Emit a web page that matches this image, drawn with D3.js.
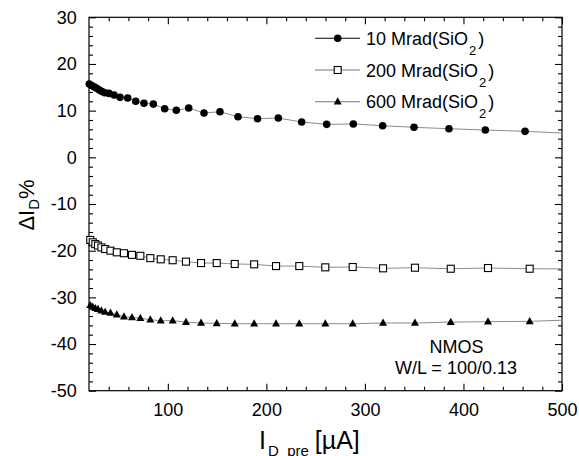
<!DOCTYPE html>
<html>
<head>
<meta charset="utf-8">
<script src="https://cdn.jsdelivr.net/npm/d3@7"></script>
<style>
  body { margin: 0; background: #fff; }
  svg { display: block; font-family: "Liberation Sans", Arial, Helvetica, sans-serif; }
</style>
</head>
<body>
<svg id="chart" width="579" height="456"></svg>
<script>
// Drain-current degradation vs. pre-irradiation drain current (NMOS, W/L = 100/0.13)

// 10 Mrad(SiO2) series
const current10 = [20.3, 22.7, 25.1, 27.8, 30.5, 33.2, 35.9, 40.3, 45.4, 51.5, 59.3, 67.4, 75.8, 85.3, 96.8,
  108.6, 121.2, 136.7, 152.9, 171.2, 191.0, 212.1, 235.8, 261.2, 288.2, 318.0, 349.8, 385.3, 422.2, 462.5];
const delta10 = [15.7, 15.4, 15.1, 14.8, 14.4, 14.1, 13.85, 13.7, 13.35, 12.85, 12.7, 12.0, 11.6, 11.4, 10.4,
  10.07, 10.56, 9.49, 9.77, 8.7, 8.27, 8.42, 7.56, 7.07, 7.14, 6.77, 6.43, 6.13, 5.85, 5.57];

// 200 and 600 Mrad(SiO2) series share the same bias currents
const current = [21.3, 23.8, 26.4, 29.1, 32.6, 36.4, 41.8, 48.2, 55.5, 63.6, 72.1, 82.2, 92.8, 104.9,
  118.4, 133.7, 149.6, 167.9, 187.6, 209.8, 233.4, 259.8, 287.6, 318.4, 350.8, 387.1, 424.9, 467.2];
const delta200 = [-17.7, -18.2, -18.6, -18.9, -19.3, -19.65, -20.0, -20.35, -20.55, -20.9, -21.1, -21.6,
  -21.85, -22.05, -22.35, -22.65, -22.65, -22.85, -22.93, -23.3, -23.3, -23.57, -23.5, -23.78, -23.65, -23.87, -23.72, -23.87];
const delta600 = [-31.7, -32.05, -32.35, -32.55, -32.85, -33.15, -33.35, -33.7, -34.15, -34.3, -34.45, -34.8,
  -35.0, -35.0, -35.3, -35.5, -35.57, -35.65, -35.65, -35.65, -35.65, -35.65, -35.65, -35.5, -35.5, -35.3, -35.22, -35.14];

// trend lines continue to the end of the current range
const trendEndCurrent = 500;
const trendEnd = [5.2, -23.9, -34.9];

const seriesNames = ["10 Mrad(SiO", "200 Mrad(SiO", "600 Mrad(SiO"];
const xMajorTicks = [100, 200, 300, 400, 500];
const yMajorTicks = [-50, -40, -30, -20, -10, 0, 10, 20, 30];
const noteLines = ["NMOS", "W/L = 100/0.13"];

const series = [
  { name: seriesNames[0], xs: current10, ys: delta10, end: trendEnd[0], marker: "circle", legendLine: "#000" },
  { name: seriesNames[1], xs: current, ys: delta200, end: trendEnd[1], marker: "square", legendLine: "#777" },
  { name: seriesNames[2], xs: current, ys: delta600, end: trendEnd[2], marker: "triangle", legendLine: "#777" }
];

const svg = d3.select("#chart");
const plot = { left: 89, top: 17.3, right: 562, bottom: 390.7 };

const x = d3.scaleLinear().domain([20, 500]).range([plot.left, plot.right]);
const y = d3.scaleLinear().domain([-50, 30]).range([plot.bottom, plot.top]);

const xMinor = d3.range(40, 500, 20).filter(v => !xMajorTicks.includes(v));
const yMinor = d3.range(-48, 30, 2).filter(v => !yMajorTicks.includes(v));

// plain hyphen-minus labels
const plainNumber = d => String(d);

function styleAxis(g) {
  g.select(".domain").remove();
  g.selectAll(".tick line").attr("stroke", "#000").attr("stroke-width", 1.1);
  g.selectAll("text").attr("font-size", 18).attr("fill", "#000")
    .attr("font-family", "'Liberation Sans', Arial, sans-serif");
}

// bottom axis (labelled) + minor ticks
svg.append("g").attr("transform", `translate(0,${plot.bottom})`)
  .call(d3.axisBottom(x).tickValues(xMajorTicks).tickSize(-7).tickPadding(12.5).tickFormat(plainNumber))
  .call(styleAxis);
svg.append("g").attr("transform", `translate(0,${plot.bottom})`)
  .call(d3.axisBottom(x).tickValues(xMinor).tickSize(-4).tickFormat(""))
  .call(styleAxis);
// top axis ticks
svg.append("g").attr("transform", `translate(0,${plot.top})`)
  .call(d3.axisTop(x).tickValues(xMajorTicks).tickSize(-7).tickFormat(""))
  .call(styleAxis);
svg.append("g").attr("transform", `translate(0,${plot.top})`)
  .call(d3.axisTop(x).tickValues(xMinor).tickSize(-4).tickFormat(""))
  .call(styleAxis);
// left axis (labelled) + minor ticks
svg.append("g").attr("transform", `translate(${plot.left},0)`)
  .call(d3.axisLeft(y).tickValues(yMajorTicks).tickSize(-7).tickPadding(12.3).tickFormat(plainNumber))
  .call(styleAxis);
svg.append("g").attr("transform", `translate(${plot.left},0)`)
  .call(d3.axisLeft(y).tickValues(yMinor).tickSize(-4).tickFormat(""))
  .call(styleAxis);
// right axis ticks
svg.append("g").attr("transform", `translate(${plot.right},0)`)
  .call(d3.axisRight(y).tickValues(yMajorTicks).tickSize(-7).tickFormat(""))
  .call(styleAxis);
svg.append("g").attr("transform", `translate(${plot.right},0)`)
  .call(d3.axisRight(y).tickValues(yMinor).tickSize(-4).tickFormat(""))
  .call(styleAxis);

// frame
svg.append("rect")
  .attr("x", plot.left).attr("y", plot.top)
  .attr("width", plot.right - plot.left).attr("height", plot.bottom - plot.top)
  .attr("fill", "none").attr("stroke", "#000").attr("stroke-width", 1.2);

// marker drawing
function drawMarker(sel, type, cx, cy) {
  if (type === "circle") {
    sel.append("circle").attr("cx", cx).attr("cy", cy).attr("r", 3.8).attr("fill", "#000");
  } else if (type === "square") {
    sel.append("rect").attr("x", cx - 3.5).attr("y", cy - 3.5).attr("width", 7).attr("height", 7)
      .attr("fill", "#fff").attr("stroke", "#000").attr("stroke-width", 1.1);
  } else {
    sel.append("path")
      .attr("d", `M${cx},${cy - 4.4}L${cx + 4},${cy + 2.8}L${cx - 4},${cy + 2.8}Z`)
      .attr("fill", "#000");
  }
}

const line = d3.line().x(d => x(d[0])).y(d => y(d[1]));

series.forEach(s => {
  const pts = s.xs.map((v, i) => [v, s.ys[i]]);
  const trend = pts.concat([[trendEndCurrent, s.end]]);
  svg.append("path").datum(trend)
    .attr("d", line).attr("fill", "none").attr("stroke", "#8c8c8c").attr("stroke-width", 1);
  const g = svg.append("g");
  pts.forEach(p => drawMarker(g, s.marker, x(p[0]), y(p[1])));
});

// legend
const legendRowY = [38.3, 70, 101.7];
series.forEach((s, i) => {
  const g = svg.append("g");
  const ly = legendRowY[i];
  g.append("line").attr("x1", 315).attr("x2", 360).attr("y1", ly).attr("y2", ly)
    .attr("stroke", s.legendLine).attr("stroke-width", 1.1);
  drawMarker(g, s.marker, 337.7, ly);
  const t = g.append("text").attr("x", 366).attr("y", ly + 6.7).attr("font-size", 18).attr("fill", "#000");
  t.append("tspan").text(s.name);
  t.append("tspan").attr("font-size", 13).attr("dx", 1).attr("dy", 10).text("2");
  t.append("tspan").attr("dx", 2).attr("dy", -10).text(")");
});

// device annotation
svg.append("text").attr("x", 456.5).attr("y", 353).attr("text-anchor", "middle")
  .attr("font-size", 18).attr("fill", "#000").text(noteLines[0]);
svg.append("text").attr("x", 456).attr("y", 374).attr("text-anchor", "middle")
  .attr("font-size", 18).attr("fill", "#000").text(noteLines[1]);

// axis titles
const xt = svg.append("text").attr("x", 259).attr("y", 449).attr("font-size", 25).attr("fill", "#000");
xt.append("tspan").text("I");
xt.append("tspan").attr("font-size", 15).attr("dx", 2).attr("dy", 7).text("D_pre");
xt.append("tspan").attr("dx", 6).attr("dy", -7).text("[\u00b5A]");

const yt = svg.append("text")
  .attr("transform", `translate(33.5,205) rotate(-90)`)
  .attr("text-anchor", "middle").attr("font-size", 22).attr("fill", "#000");
yt.append("tspan").text("\u0394I");
yt.append("tspan").attr("font-size", 15).attr("dy", 5).text("D");
yt.append("tspan").attr("dy", -5).text("%");
</script>
</body>
</html>
